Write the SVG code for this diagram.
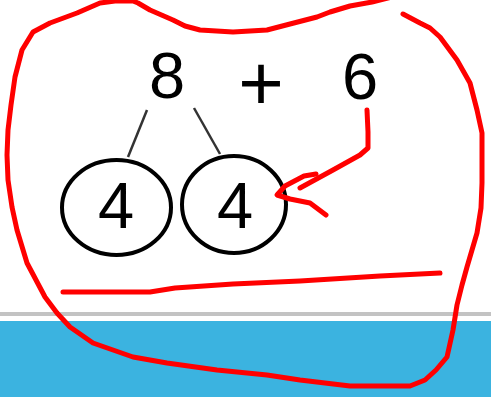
<svg xmlns="http://www.w3.org/2000/svg" width="491" height="397" viewBox="0 0 491 397">
<style>
.num{font-family:"Liberation Sans",Arial,sans-serif;font-size:65px;fill:#000;text-anchor:middle}
.plus{font-family:"Liberation Sans",Arial,sans-serif;font-size:78px;fill:#000;text-anchor:middle}
.ring{fill:#fff;stroke:#000;stroke-width:4}
.branch{stroke:#333;stroke-width:2.5;fill:none}
.ink{stroke:#ff0000;stroke-width:5;fill:none;stroke-linecap:round;stroke-linejoin:round}
</style>
<rect x="0" y="0" width="491" height="397" fill="#fff"/>
<rect x="0" y="312" width="491" height="4" fill="#c3c3c3"/>
<rect x="0" y="321" width="491" height="76" fill="#3bb3e0"/>
<g id="connectors">
<line class="branch" x1="147" y1="110" x2="128" y2="157"/>
<line class="branch" x1="194" y1="108" x2="220" y2="154"/>
</g>
<g id="n8"><text class="num" x="167" y="98">8</text></g>
<g id="nplus"><text class="plus" x="261" y="110">+</text></g>
<g id="n6"><text class="num" x="360" y="99">6</text></g>
<g id="c1"><ellipse class="ring" cx="116.5" cy="207.5" rx="54.5" ry="47.5"/><text class="num" x="116" y="228">4</text></g>
<g id="c2"><ellipse class="ring" cx="234" cy="204.5" rx="52" ry="48.5"/><text class="num" x="235" y="228">4</text></g>
<g id="annotations">
<path class="ink" d="M392,-3 L372,2 L350,6 L330,12 L317,17 L290,24 L267,30 L233,32 L200,30 L185,26 L173,20 L150,10 L138,3 L133,1 L115,1 L100,3 L77,13 L50,23 L33,32 L22,50 L15,77 L11,105 L8,130 L7,155 L8,180 L12,207 L17,230 L27,263 L45,297 L57,313 L70,327 L93,343 L133,357 L167,363 L217,370 L267,375 L300,380 L350,386 L410,386 L425,380 L436,370 L447,357 L453,330 L457,305 L462,285 L467,267 L477,233 L481,208 L482,183 L482,133 L477,110 L470,83 L457,60 L440,37 L430,28 L420,23 L403,14"/>
<path class="ink" d="M63,292 L150,292 L175,288 L233,284 L300,281 L380,276 L440,273"/>
<path class="ink" d="M367,110 L368,132 L368,148 L360,155 L333,170 L300,188"/>
<path class="ink" d="M316,174 L304,176 L285,186 L277,195 L290,199 L310,203 L326,215"/>
</g>
</svg>
